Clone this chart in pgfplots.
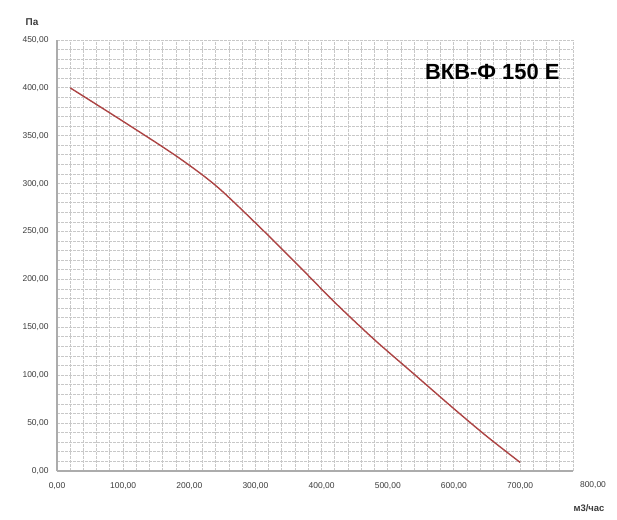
\documentclass[border=0pt]{standalone}
\usepackage{fontspec}
\setmainfont{Liberation Sans}
\usepackage{pgfplots}
\pgfplotsset{compat=1.18}
\usetikzlibrary{calc}
\definecolor{curvec}{RGB}{172,68,68}
\definecolor{gridc}{RGB}{200,200,200}
\definecolor{labc}{RGB}{60,60,60}
\begin{document}
\begin{tikzpicture}
\begin{axis}[
  scale only axis, width=516bp, height=431bp,
  xmin=0, xmax=780, ymin=0, ymax=450,
  xtick={0,100,...,700}, ytick={0,50,...,450},
  minor xtick={0,20,...,780}, minor ytick={0,10,...,450},
  grid=both,
  major grid style={gridc, line width=0.9pt, dash pattern=on 3pt off 1pt},
  minor grid style={gridc, line width=0.9pt, dash pattern=on 3pt off 1pt},
  axis lines=left, axis line style={-, gray!65, line width=1.3pt},
  major tick length=0pt, minor tick length=0pt,
  tick label style={font=\fontsize{8.5}{10}\selectfont, text=labc},
  xticklabel style={yshift=-8bp},
  yticklabel style={xshift=-5bp},
  /pgf/number format/fixed, /pgf/number format/fixed zerofill,
  /pgf/number format/precision=2, /pgf/number format/use comma,
  /pgf/number format/1000 sep={}, /pgf/number format/assume math mode=true,
  clip=false,
]
\addplot[curvec, line width=1.4pt, smooth] coordinates {
  (20,400) (100,365) (180,329) (240,298) (300,259) (360,218)
  (420,176) (480,137) (540,101) (600,65) (650,36) (700,9)
};
\coordinate (sw) at (rel axis cs:0,0);
\coordinate (ne) at (rel axis cs:1,1);
\node[font=\bfseries\fontsize{22}{24}\selectfont] at (axis cs:658,417) {ВКВ-Ф 150 Е};
\end{axis}
\node[font=\fontsize{8.5}{10}\selectfont, text=labc] at ($(sw)+(536bp,-14bp)$) {800,00};
\node[font=\bfseries\fontsize{10}{11}\selectfont, text=labc] at ($(sw)+(-25bp,449bp)$) {Па};
\node[font=\bfseries\fontsize{9.5}{11}\selectfont, text=labc] at ($(sw)+(532bp,-37bp)$) {м3/час};
\pgfresetboundingbox
\path[use as bounding box] ($(sw)+(-57bp,-49bp)$) rectangle ($(ne)+(44bp,40bp)$);
\end{tikzpicture}
\end{document}
